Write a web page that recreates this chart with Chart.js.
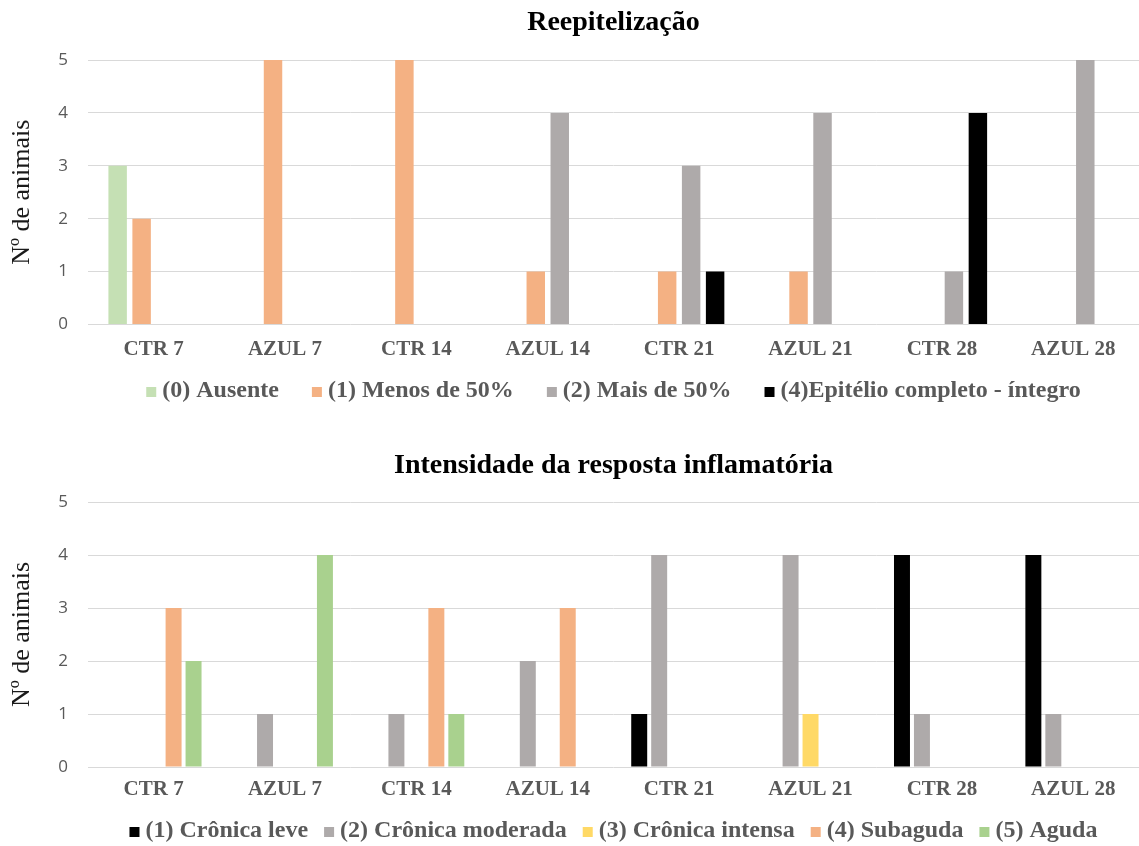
<!DOCTYPE html>
<html lang="pt">
<head>
<meta charset="utf-8">
<title>Reepitelização e intensidade da resposta inflamatória</title>
<script src="https://cdn.jsdelivr.net/npm/chart.js@4/dist/chart.umd.min.js"></script>
<style>
  html, body { margin: 0; padding: 0; background: #ffffff; }
  #page { width: 1139px; height: 846px; overflow: hidden; position: relative; }
  .box { position: absolute; left: 0; width: 1139px; height: 423px; }
  #box1 { top: 0; }
  #box2 { top: 423px; }
  canvas { display: block; }
</style>
</head>
<body>
<div id="page">
  <div class="box" id="box1"><canvas id="reepitelizacao" width="1139" height="423"></canvas></div>
  <div class="box" id="box2"><canvas id="inflamacao" width="1139" height="423"></canvas></div>
</div>
<script>
// Grupos experimentais (eixo x comum aos dois gráficos)
const grupos = ["CTR 7", "AZUL 7", "CTR 14", "AZUL 14", "CTR 21", "AZUL 21", "CTR 28", "AZUL 28"];
const yTicks = [0, 1, 2, 3, 4, 5];

// Reepitelização — número de animais por escore
const reepAusente   = [3, 0, 0, 0, 0, 0, 0, 0];
const reepMenos50   = [2, 5, 5, 1, 1, 1, 0, 0];
const reepMais50    = [0, 0, 0, 4, 3, 4, 1, 5];
const reepCompleto  = [0, 0, 0, 0, 1, 0, 4, 0];

// Intensidade da resposta inflamatória — número de animais por escore
const inflCronLeve     = [0, 0, 0, 0, 1, 0, 4, 4];
const inflCronModerada = [0, 1, 1, 2, 4, 4, 1, 1];
const inflCronIntensa  = [0, 0, 0, 0, 0, 1, 0, 0];
const inflSubaguda     = [3, 0, 3, 3, 0, 0, 0, 0];
const inflAguda        = [2, 4, 1, 0, 0, 0, 0, 0];

const SERIF = "'Liberation Serif', 'Times New Roman', serif";
const SANS = "'Open Sans', 'Liberation Sans', sans-serif";
const GRID = '#d9d9d9';
const LABEL = '#595959';

// Legenda desenhada abaixo do eixo x, centrada na área do gráfico,
// com espaçamento próprio entre os itens.
const legendaInferior = {
  id: 'legendaInferior',
  afterDraw(chart, args, opts) {
    const ctx = chart.ctx;
    const area = chart.chartArea;
    ctx.save();
    ctx.font = `bold ${opts.size}px ${SERIF}`;
    ctx.textBaseline = 'middle';
    ctx.textAlign = 'left';
    const items = chart.data.datasets.map(ds => ({
      text: ds.label,
      color: ds.backgroundColor,
      w: ctx.measureText(ds.label).width
    }));
    const total = items.reduce((s, it) => s + opts.box + opts.boxGap + it.w, 0)
      + opts.itemGap * (items.length - 1);
    let x = (area.left + area.right) / 2 - total / 2;
    const y = opts.y;
    for (const it of items) {
      ctx.fillStyle = it.color;
      ctx.fillRect(x, y - opts.box / 2 + 1, opts.box, opts.box);
      x += opts.box + opts.boxGap;
      ctx.fillStyle = LABEL;
      ctx.fillText(it.text, x, y);
      x += it.w + opts.itemGap;
    }
    ctx.restore();
  }
};

function barSet(label, data, color, cat, bar) {
  return {
    label, data,
    backgroundColor: color,
    borderWidth: 0,
    categoryPercentage: cat,
    barPercentage: bar
  };
}

function options(titleText, titlePad, xTickPad, bottomPad, legenda) {
  return {
    responsive: false,
    animation: false,
    layout: { padding: { left: 0, right: 0, top: 0, bottom: bottomPad } },
    plugins: {
      title: {
        display: true,
        text: titleText,
        fullSize: false,
        color: '#000000',
        font: { family: SERIF, size: 28, weight: 'bold', lineHeight: 1.2 },
        padding: titlePad
      },
      legend: { display: false },
      tooltip: { enabled: false },
      legendaInferior: legenda
    },
    scales: {
      x: {
        grid: { display: false, drawTicks: false },
        border: { display: false },
        ticks: {
          color: LABEL,
          padding: xTickPad,
          font: { family: SERIF, size: 21, weight: 'bold', lineHeight: 1.2 },
          maxRotation: 0,
          autoSkip: false
        }
      },
      y: {
        min: yTicks[0],
        max: yTicks[yTicks.length - 1],
        afterBuildTicks: (axis) => { axis.ticks = yTicks.map(v => ({ value: v })); },
        grid: { color: GRID, lineWidth: 1, drawTicks: false },
        border: { display: false },
        ticks: {
          color: LABEL,
          padding: 20,
          font: { family: SANS, size: 17 }
        },
        title: {
          display: true,
          text: 'Nº de animais',
          color: '#1a1a1a',
          font: { family: SERIF, size: 26, lineHeight: 1.2 },
          padding: { top: 7, bottom: 0 }
        }
      }
    }
  };
}

new Chart(document.getElementById('reepitelizacao'), {
  type: 'bar',
  data: {
    labels: grupos,
    datasets: [
      barSet('(0) Ausente', reepAusente, '#c5e0b4', 0.73, 0.77),
      barSet('(1) Menos de 50%', reepMenos50, '#f4b183', 0.73, 0.77),
      barSet('(2) Mais de 50%', reepMais50, '#aeaaaa', 0.73, 0.77),
      barSet('(4)Epitélio completo - íntegro', reepCompleto, '#000000', 0.73, 0.77)
    ]
  },
  options: options('Reepitelização', { top: 6, bottom: 20.4 }, 12.9, 47.5,
    { size: 24, box: 10, boxGap: 6, itemGap: 33, y: 391 }),
  plugins: [legendaInferior]
});

new Chart(document.getElementById('inflamacao'), {
  type: 'bar',
  data: {
    labels: grupos,
    datasets: [
      barSet('(1) Crônica leve', inflCronLeve, '#000000', 0.76, 0.8),
      barSet('(2) Crônica moderada', inflCronModerada, '#aeaaaa', 0.76, 0.8),
      barSet('(3) Crônica intensa', inflCronIntensa, '#ffd966', 0.76, 0.8),
      barSet('(4) Subaguda', inflSubaguda, '#f4b183', 0.76, 0.8),
      barSet('(5) Aguda', inflAguda, '#a9d18e', 0.76, 0.8)
    ]
  },
  options: options('Intensidade da resposta inflamatória', { top: 26, bottom: 19.4 }, 10.4, 33,
    { size: 24, box: 10, boxGap: 6, itemGap: 16, y: 408 }),
  plugins: [legendaInferior]
});
</script>
</body>
</html>
